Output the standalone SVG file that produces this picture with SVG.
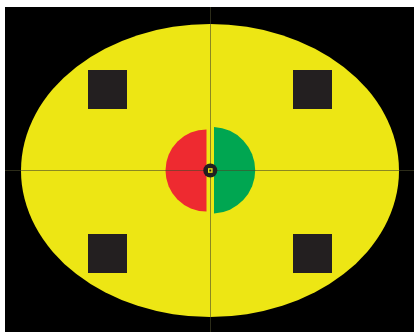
<svg xmlns="http://www.w3.org/2000/svg" width="414" height="332" viewBox="0 0 414 332">
<style>
.sq{fill:#231f20}
.ax{stroke:#4a4a2a;stroke-opacity:0.6;stroke-width:1}
</style>
<rect x="0" y="0" width="414" height="332" fill="#ffffff"/>
<rect x="5" y="7" width="409" height="325" fill="#000000"/>
<g id="field">
<ellipse cx="210" cy="170.5" rx="189" ry="146.5" fill="#ede614"/>
</g>
<g id="squares">
<rect class="sq" x="88" y="70" width="39" height="39"/>
<rect class="sq" x="293" y="70" width="39" height="39"/>
<rect class="sq" x="88" y="234" width="39" height="39"/>
<rect class="sq" x="293" y="234" width="39" height="39"/>
</g>
<g id="halves">
<path d="M206.5,129.5 A41,41 0 0 0 206.5,211.5 Z" fill="#ee2a30"/>
<path d="M214,127 A43.3,43.3 0 0 1 214,213.5 Z" fill="#00a651"/>
</g>
<g id="axes">
<line class="ax" x1="210.5" y1="7" x2="210.5" y2="332"/>
<line class="ax" x1="5" y1="170.5" x2="414" y2="170.5"/>
</g>
<g id="center">
<circle cx="210.3" cy="170.5" r="7" fill="#231f20"/>
<rect x="208" y="168.2" width="4.6" height="4.6" fill="#ede614"/>
<rect x="209.3" y="169.5" width="2" height="2" fill="#231f20"/>
</g>
</svg>
